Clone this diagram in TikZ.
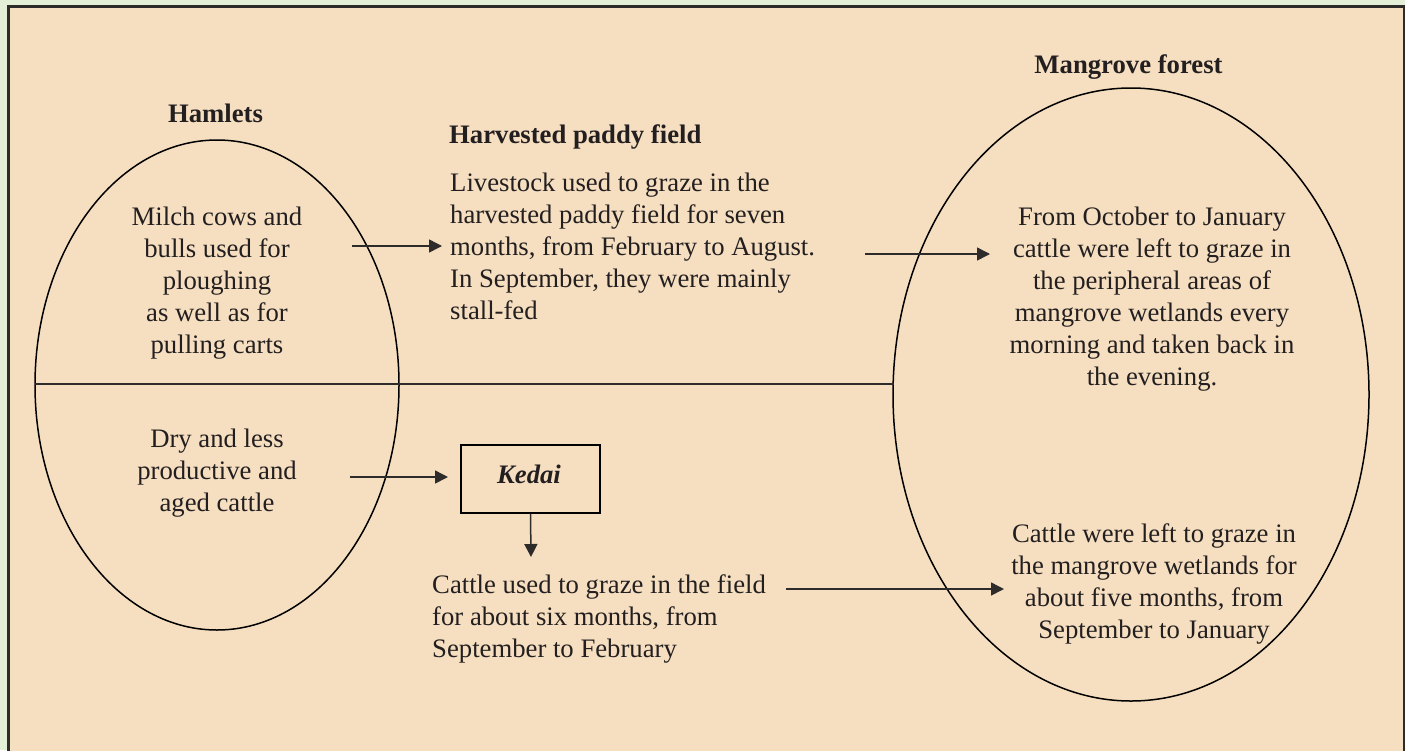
\documentclass[tikz,border=0pt]{standalone}
\usepackage{fontspec}
\setmainfont{Liberation Serif}[Ligatures=TeX]
\usetikzlibrary{arrows.meta}
\definecolor{bgout}{HTML}{E3EFD6}
\definecolor{peach}{HTML}{F6DFC0}
\definecolor{ink}{HTML}{231F20}
\definecolor{frameline}{HTML}{2E2B2B}
\newcommand{\txtlines}[2]{\begin{tabular}[t]{@{}#1@{}}#2\end{tabular}}
\begin{document}
\begin{tikzpicture}[x=1pt,y=-1pt,
  txt/.style={inner sep=0pt,anchor=base,text=ink,font=\fontsize{26.7}{32}\selectfont},
  head/.style={txt,font=\fontsize{26.7}{32}\selectfont\bfseries},
  oval/.style={draw=black,line width=1.5pt},
  conn/.style={draw=frameline,line width=1.5pt},
  arr/.style={conn,-{Triangle[length=13pt,width=13pt]}}]
\useasboundingbox (0,0) rectangle (1405,750);
\clip (0,0) rectangle (1405,750);
\fill[bgout] (0,0) rectangle (1405,750);
\filldraw[fill=peach,draw=frameline,line width=3pt] (8,6) rectangle (1404,800);
% ellipses
\draw[oval] (217,385) ellipse [x radius=182,y radius=245];
\draw[oval] (1131,394.5) ellipse [x radius=238,y radius=306.5];
% divider
\coordinate (dl) at (35,384);
\coordinate (dr) at (894,384);
\draw[conn] (dl) -- (dr);
% headings
\node[head] (hamlets) at (215.5,122) {Hamlets};
\node[head,anchor=base west] (paddyh) at (449,143) {Harvested paddy field};
\node[head] (mangh) at (1128.5,73) {Mangrove forest};
% texts
\node[txt] (milch) at (217,225) {\txtlines{c}{Milch cows and\\bulls used for\\ploughing\\as well as for\\pulling carts}};
\node[txt,anchor=base west] (paddy) at (450,191) {\txtlines{l}{Livestock used to graze in the\\harvested paddy field for seven\\months, from February to August.\\In September, they were mainly\\stall-fed}};
\node[txt] (mangup) at (1152,225) {\txtlines{c}{From October to January\\cattle were left to graze in\\the peripheral areas of\\mangrove wetlands every\\morning and taken back in\\the evening.}};
\node[txt] (dry) at (217,447) {\txtlines{c}{Dry and less\\productive and\\aged cattle}};
\node[draw=black,line width=1.4pt,minimum width=139pt,minimum height=68pt,inner sep=0pt] (kedai) at (530.5,479) {};
\node[head,font=\fontsize{26.7}{32}\selectfont\bfseries\itshape] (kedait) at (529,483) {Kedai};
\node[txt,anchor=base west] (field) at (432,593) {\txtlines{l}{Cattle used to graze in the field\\for about six months, from\\September to February}};
\node[txt] (mangdown) at (1154,542) {\txtlines{c}{Cattle were left to graze in\\the mangrove wetlands for\\about five months, from\\September to January}};
% arrows
\coordinate (a1s) at (352,246); \coordinate (a1e) at (442,246);
\coordinate (a2s) at (865,254); \coordinate (a2e) at (990,254);
\coordinate (a3s) at (350,477); \coordinate (a3e) at (448,477);
\coordinate (a4e) at (531,557);
\coordinate (a5s) at (786,589); \coordinate (a5e) at (1004,589);
\draw[arr] (a1s) -- (a1e);
\draw[arr] (a2s) -- (a2e);
\draw[arr] (a3s) -- (a3e);
\draw[arr] (kedai.south) -- (a4e);
\draw[arr] (a5s) -- (a5e);
\end{tikzpicture}
\end{document}
